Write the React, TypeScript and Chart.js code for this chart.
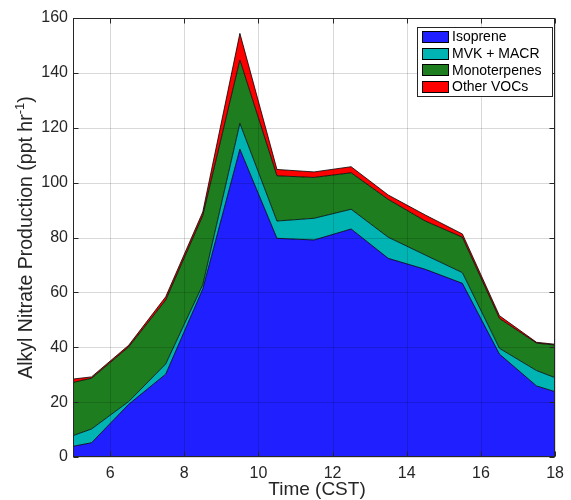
import React, { useEffect, useRef } from "react";
import { Chart, registerables } from "chart.js";

Chart.register(...registerables);

const times = [5, 5.5, 6.5, 7.5, 8.5, 9.5, 10.5, 11.5, 12.5, 13.5, 14.5, 15.5, 16.5, 17.5, 18];
const isoprene = [3.9, 5.2, 19.2, 30.2, 61.3, 112.2, 79.7, 79.1, 83.1, 72.4, 68.4, 63.3, 37.5, 25.9, 23.8];
const mvkMacr = [3.9, 5.0, 1.0, 3.7, 1.5, 9.4, 6.3, 7.9, 7.2, 7.7, 5.2, 3.9, 2.1, 5.6, 5.1];
const monoterpenes = [19.4, 18.5, 19.9, 23.3, 25.2, 23.1, 16.5, 14.9, 13.3, 13.8, 12.4, 12.9, 10.9, 10.0, 11.9];
const otherVocs = [1.2, 0.5, 0.6, 1.2, 1.3, 9.7, 2.3, 2.0, 2.2, 1.6, 2.2, 1.2, 1.0, 0.3, 0.3];

const seriesNames = ["Isoprene", "MVK + MACR", "Monoterpenes", "Other VOCs"];
const seriesColors = ["#1f1fff", "#00b4b4", "#1e7d1e", "#ff0000"];
const xTicks = [6, 8, 10, 12, 14, 16, 18];
const yTicks = [0, 20, 40, 60, 80, 100, 120, 140, 160];

const FONT = "'Liberation Sans', Arial, Helvetica, sans-serif";
const TEXT = "#262626";

const overlayPlugin = {
  id: "matlabOverlay",
  afterDatasetsDraw(chart: any) {
    const { ctx, chartArea: a, scales } = chart;
    const xs = scales.x;
    const ys = scales.y;
    ctx.save();
    ctx.lineWidth = 1;
    ctx.strokeStyle = "rgba(0,0,0,0.15)";
    xTicks.forEach((v) => {
      const px = Math.round(xs.getPixelForValue(v)) + 0.5;
      ctx.beginPath();
      ctx.moveTo(px, a.top);
      ctx.lineTo(px, a.bottom);
      ctx.stroke();
    });
    yTicks.forEach((v) => {
      const py = Math.round(ys.getPixelForValue(v)) + 0.5;
      ctx.beginPath();
      ctx.moveTo(a.left, py);
      ctx.lineTo(a.right, py);
      ctx.stroke();
    });
    ctx.strokeStyle = TEXT;
    ctx.lineWidth = 1;
    const L = Math.round(a.left) + 0.5;
    const R = Math.round(a.right) - 0.5;
    const T = Math.round(a.top) + 0.5;
    const B = Math.round(a.bottom) - 0.5;
    ctx.strokeRect(L, T, R - L, B - T);
    const tl = 5;
    xTicks.forEach((v) => {
      const px = Math.round(xs.getPixelForValue(v)) + 0.5;
      ctx.beginPath();
      ctx.moveTo(px, B);
      ctx.lineTo(px, B - tl);
      ctx.moveTo(px, T);
      ctx.lineTo(px, T + tl);
      ctx.stroke();
    });
    yTicks.forEach((v) => {
      const py = Math.round(ys.getPixelForValue(v)) + 0.5;
      ctx.beginPath();
      ctx.moveTo(L, py);
      ctx.lineTo(L + tl, py);
      ctx.moveTo(R, py);
      ctx.lineTo(R - tl, py);
      ctx.stroke();
    });
    ctx.restore();
  },
  afterDraw(chart: any) {
    const { ctx, chartArea: a } = chart;
    ctx.save();
    // Y axis title with superscript
    const main = "Alkyl Nitrate Production (ppt hr";
    const sup = "-1";
    const close = ")";
    const bigFont = `19.5px ${FONT}`;
    const smallFont = `13px ${FONT}`;
    ctx.font = bigFont;
    const w1 = ctx.measureText(main).width;
    const w3 = ctx.measureText(close).width;
    ctx.font = smallFont;
    const w2 = ctx.measureText(sup).width;
    const total = w1 + w2 + w3;
    const cy = (a.top + a.bottom) / 2;
    ctx.translate(32, cy);
    ctx.rotate(-Math.PI / 2);
    ctx.fillStyle = TEXT;
    ctx.textBaseline = "alphabetic";
    ctx.textAlign = "left";
    let x0 = -total / 2;
    ctx.font = bigFont;
    ctx.fillText(main, x0, 0);
    ctx.font = smallFont;
    ctx.fillText(sup, x0 + w1, -8);
    ctx.font = bigFont;
    ctx.fillText(close, x0 + w1 + w2, 0);
    ctx.restore();

    // Legend
    ctx.save();
    const lx = 417, ly = 27, lw = 136, lh = 70;
    ctx.fillStyle = "#ffffff";
    ctx.fillRect(lx, ly, lw, lh);
    ctx.strokeStyle = TEXT;
    ctx.lineWidth = 1;
    ctx.strokeRect(lx + 0.5, ly + 0.5, lw - 1, lh - 1);
    ctx.font = `14px ${FONT}`;
    ctx.textBaseline = "middle";
    ctx.textAlign = "left";
    seriesNames.forEach((name, i) => {
      const cyy = 37 + i * 16.7;
      ctx.fillStyle = seriesColors[i];
      ctx.fillRect(422, Math.round(cyy - 6), 27, 12);
      ctx.strokeStyle = "#000";
      ctx.strokeRect(422.5, Math.round(cyy - 6) + 0.5, 26, 11);
      ctx.fillStyle = "#000";
      ctx.fillText(name, 452, cyy + 0.5);
    });
    ctx.restore();
  },
};

export default function App() {
  const ref = useRef<HTMLCanvasElement>(null);
  useEffect(() => {
    if (!ref.current) return;
    const stacks = [isoprene, mvkMacr, monoterpenes, otherVocs];
    const chart = new Chart(ref.current, {
      type: "line",
      data: {
        datasets: stacks.map((arr, i) => ({
          label: seriesNames[i],
          data: times.map((t, j) => ({ x: t, y: arr[j] })),
          backgroundColor: seriesColors[i],
          borderColor: "#000000",
          borderWidth: 0.8,
          pointRadius: 0,
          tension: 0,
          fill: i === 0 ? "origin" : "-1",
        })),
      },
      options: {
        responsive: false,
        animation: false,
        layout: { padding: { left: 0, right: 10, top: 18, bottom: 0 } },
        plugins: { legend: { display: false }, tooltip: { enabled: false } },
        scales: {
          x: {
            type: "linear",
            min: 5,
            max: 18,
            grid: { display: false, drawTicks: false },
            border: { display: false },
            afterBuildTicks: (s: any) => {
              s.ticks = xTicks.map((v) => ({ value: v }));
            },
            afterFit: (s: any) => {
              s.height = 43;
            },
            ticks: {
              padding: 7,
              color: TEXT,
              font: { family: FONT, size: 16 },
              maxRotation: 0,
              autoSkip: false,
            },
          },
          y: {
            type: "linear",
            stacked: true,
            min: 0,
            max: 160,
            grid: { display: false, drawTicks: false },
            border: { display: false },
            afterBuildTicks: (s: any) => {
              s.ticks = yTicks.map((v) => ({ value: v }));
            },
            afterFit: (s: any) => {
              s.width = 73;
            },
            ticks: {
              padding: 5,
              color: TEXT,
              font: { family: FONT, size: 16 },
              autoSkip: false,
            },
          },
        },
      },
      plugins: [overlayPlugin],
    });
    return () => chart.destroy();
  }, []);
  return (
    <div style={{ position: "absolute", left: 0, top: 0, width: 571, height: 500, background: "#fff" }}>
      <canvas ref={ref} width={571} height={500} />
      <div
        style={{
          position: "absolute",
          left: 73,
          width: 488,
          top: 478,
          textAlign: "center",
          font: `19px ${FONT}`,
          color: TEXT,
          lineHeight: "22px",
        }}
      >
        Time (CST)
      </div>
    </div>
  );
}
